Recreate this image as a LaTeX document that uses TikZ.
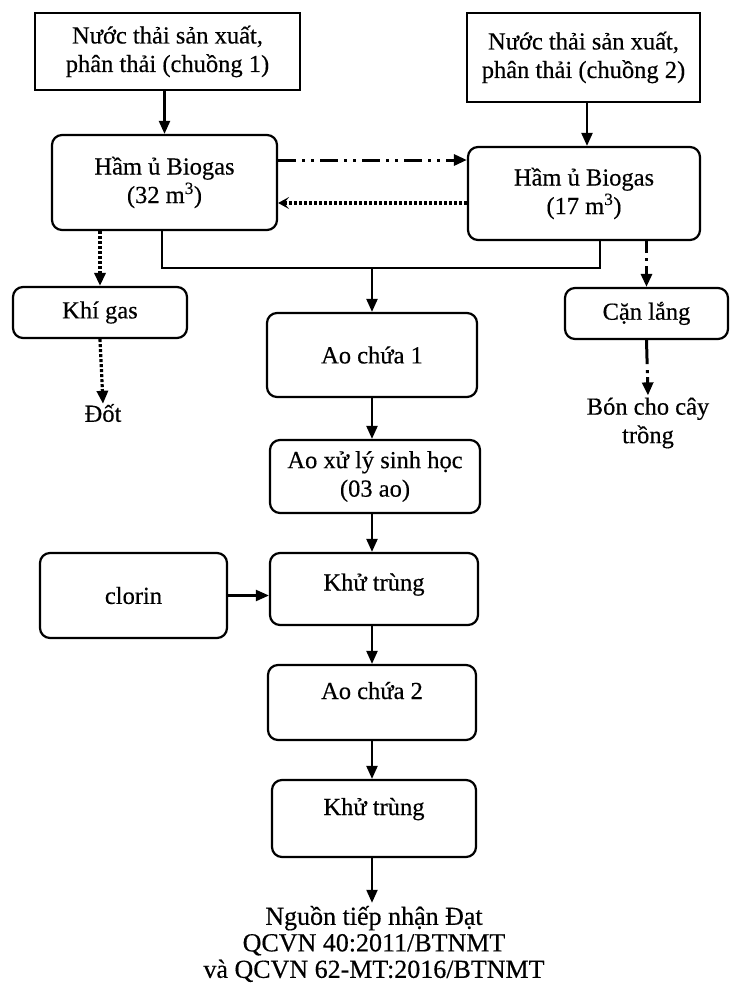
\documentclass[tikz,border=0pt]{standalone}
\usepackage{fontspec}
\setmainfont{Liberation Serif}[UprightFeatures={FakeBold=0.4}]
\usetikzlibrary{arrows.meta}
\begin{document}
\begin{tikzpicture}[x=1pt,y=-1pt,
  every node/.style={font=\fontsize{24.5}{28.5}\selectfont, align=center, inner sep=0pt},
  sqbox/.style={draw, line width=2.2pt},
  rbox/.style={draw, line width=2.2pt, rounded corners=10pt},
  txt/.style={},
  ln/.style={line width=2.2pt},
  arr/.style={line width=2.2pt, -{Triangle[length=13pt,width=11pt]}},
  dotarr/.style={line width=3.2pt, dash pattern=on 3pt off 2pt, -{Triangle[length=13pt,width=11pt]}},
  dasharr/.style={line width=3pt, dash pattern=on 12pt off 5pt on 3pt off 5pt, -{Triangle[length=13pt,width=11pt]}},
  dashdotarr/.style={line width=3pt, dash pattern=on 18pt off 6pt on 3pt off 6pt on 3pt off 6pt, -{Triangle[length=13pt,width=11pt]}},
  backarr/.style={line width=3.2pt, dash pattern=on 3pt off 2pt, -{Stealth[length=11pt,width=12pt,inset=5pt]}}
]
\useasboundingbox (0,0) rectangle (731,989);

\node[sqbox, minimum width=265pt, minimum height=77pt] (c1) at (167.5,51.5) {Nước thải sản xuất,\\phân thải (chuồng 1)};
\node[sqbox, minimum width=233pt, minimum height=89pt] (c2) at (583.5,57.5) {Nước thải sản xuất,\\phân thải (chuồng 2)};
\node[rbox, minimum width=225pt, minimum height=95pt] (h1) at (164.5,182.5) {Hầm ủ Biogas\\(32 m\textsuperscript{3})};
\node[rbox, minimum width=232pt, minimum height=93pt] (h2) at (584,193.5) {Hầm ủ Biogas\\(17 m\textsuperscript{3})};
\node[rbox, minimum width=174pt, minimum height=51pt] (khi) at (100,312.5) {Khí gas};
\node[rbox, minimum width=163pt, minimum height=51pt] (can) at (646.5,313.5) {Cặn lắng};
\node[txt] (dot) at (103,413) {Đốt};
\node[txt] (bon) at (648,423) {Bón cho cây\\trồng};
\node[rbox, minimum width=210pt, minimum height=84pt] (ao1) at (372,355) {Ao chứa 1};
\node[rbox, minimum width=210pt, minimum height=73pt] (xl) at (375,476.5) {Ao xử lý sinh học\\(03 ao)};
\node[rbox, minimum width=187pt, minimum height=85pt] (clo) at (133.5,595.5) {clorin};
\node[rbox, minimum width=208pt, minimum height=72pt, text height=17pt, text depth=14pt] (kt1) at (374,589) {Khử trùng};
\node[rbox, minimum width=208pt, minimum height=75pt, text height=17pt, text depth=24pt] (ao2) at (372,702.5) {Ao chứa 2};
\node[rbox, minimum width=204pt, minimum height=77pt, text height=17pt, text depth=24pt] (kt2) at (374,818.5) {Khử trùng};
\node[txt, font=\fontsize{26}{26.5}\selectfont] (out) at (374,944) {Nguồn tiếp nhận Đạt\\QCVN 40:2011/BTNMT\\và QCVN 62-MT:2016/BTNMT};

\coordinate (j) at (372,268);

\draw[arr] (h1.north |- c1.south) -- (h1.north);
\draw[arr] ([xshift=3pt]h2.north |- c2.south) -- ([xshift=3pt]h2.north);
\draw[dashdotarr] ([yshift=22.5pt]h1.east) -- ([yshift=22.5pt]h1.east -| h2.west);
\draw[backarr] ([yshift=-20.5pt]h1.east -| h2.west) -- ([yshift=-20.5pt]h1.east);
\draw[dotarr] (khi.north |- h1.south) -- (khi.north);
\draw[dotarr] (khi.south) -- (dot.north);
\draw[dasharr] (can.north |- h2.south) -- (can.north);
\draw[line width=3pt, dash pattern=on 24pt off 6pt on 3pt off 4pt, -{Triangle[length=13pt,width=11pt]}] (can.south) -- ([yshift=2pt]bon.north);
\draw[ln] ([xshift=-2.5pt]h1.south) |- (j) -| ([xshift=16pt]h2.south);
\draw[arr] (j) -- (ao1.north);
\draw[arr] (ao1.south) -- (ao1.south |- xl.north);
\draw[arr] (ao1.south |- xl.south) -- (ao1.south |- kt1.north);
\draw[arr] (clo.east) -- (kt1.west |- clo.east);
\draw[arr] (ao1.south |- kt1.south) -- (ao1.south |- ao2.north);
\draw[arr] (ao1.south |- ao2.south) -- (ao1.south |- kt2.north);
\draw[arr] (ao1.south |- kt2.south) -- ([yshift=3pt]ao1.south |- out.north);
\end{tikzpicture}
\end{document}
